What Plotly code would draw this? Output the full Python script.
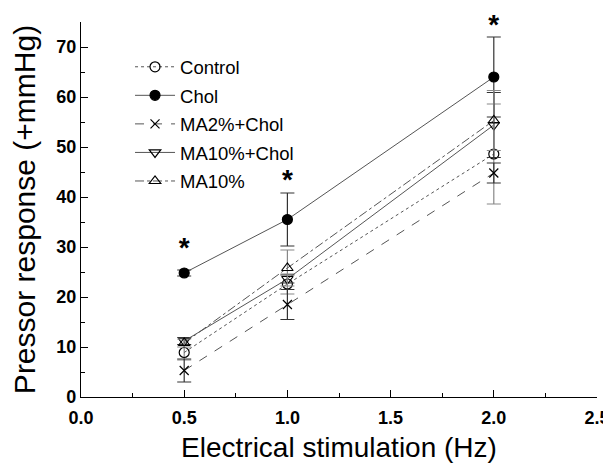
import plotly.graph_objects as go

freq = [0.5, 1.0, 2.0]
series_names = ["Control", "Chol", "MA2%+Chol", "MA10%+Chol", "MA10%"]
control = [8.9, 22.6, 48.6]
control_err = [1.5, 2.0, 10.0]
chol = [24.8, 35.5, 64.0]
chol_err = [0.6, 5.3, 8.0]
ma2_chol = [5.3, 18.5, 44.8]
ma2_chol_err = [2.3, 3.0, 2.0]
ma10_chol = [11.2, 23.6, 54.4]
ma10_chol_err = [0.7, 0.8, 6.5]
ma10 = [10.8, 25.8, 55.3]
ma10_err = [0.8, 3.6, 6.0]
star_x = [0.5, 1.0, 2.0]
star_y = [29.4, 43.0, 74.0]

x_ticks = [0.0, 0.5, 1.0, 1.5, 2.0, 2.5]
y_ticks = [0, 10, 20, 30, 40, 50, 60, 70]

styles = [
    (control, control_err, "dot", "circle-open", "#888888"),
    (chol, chol_err, "solid", "circle", "#333333"),
    (ma2_chol, ma2_chol_err, "dash", "x-thin-open", "#333333"),
    (ma10_chol, ma10_chol_err, "solid", "triangle-down-open", "#333333"),
    (ma10, ma10_err, "dashdot", "triangle-up-open", "#888888"),
]

fig = go.Figure()
for i, (name, (vals, errs, dash, sym, ecol)) in enumerate(zip(series_names, styles)):
    fig.add_trace(go.Scatter(
        x=freq, y=vals, name=name, mode="lines+markers",
        legendgroup=name,
        line=dict(color="#555555", width=1, dash=dash),
        marker=dict(symbol=sym, size=10 if sym != "x-thin-open" else 9,
                    color="black", line=dict(color="black", width=1.2)),
        error_y=dict(type="data", array=errs, visible=True, color=ecol,
                     thickness=1.2, width=7),
        cliponaxis=False,
    ))

fig.add_trace(go.Scatter(
    x=star_x, y=star_y, mode="text", text=["<b>*</b>"] * 3, showlegend=False,
    textfont=dict(size=28, color="black", family="Liberation Sans"),
    textposition="middle center", cliponaxis=False, hoverinfo="skip",
))

# page body has an 8px default margin, so the figure is 8px smaller and offset
fig.update_layout(
    width=603, height=462,
    margin=dict(l=73, r=14, t=14, b=73, autoexpand=False),
    paper_bgcolor="white", plot_bgcolor="white",
    font=dict(family="Liberation Sans, Arial", color="black"),
    showlegend=True,
    legend=dict(x=0.095, y=0.93, xanchor="left", yanchor="top",
                font=dict(size=18.5), bgcolor="rgba(0,0,0,0)",
                tracegroupgap=1.5, itemwidth=40),
)
fig.update_xaxes(
    range=[0, 2.5], tickvals=x_ticks, ticktext=[f"{v:.1f}" for v in x_ticks],
    ticks="inside", ticklen=7, tickwidth=1, tickcolor="black",
    showline=True, linecolor="black", linewidth=1.2,
    showgrid=False, zeroline=False, automargin=False,
    ticklabelstandoff=4,
    tickfont=dict(size=18, family="Liberation Sans", weight="bold"),
    minor=dict(ticks="inside", ticklen=4, dtick=0.25, tickcolor="black", showgrid=False),
    title=dict(text="Electrical stimulation (Hz)", font=dict(size=28), standoff=10),
)
fig.update_yaxes(
    range=[0, 75], tickvals=y_ticks,
    ticks="inside", ticklen=7, tickwidth=1, tickcolor="black",
    showline=True, linecolor="black", linewidth=1.2,
    showgrid=False, zeroline=False, automargin=False,
    tickfont=dict(size=18, family="Liberation Sans", weight="bold"),
    minor=dict(ticks="inside", ticklen=4, dtick=5, tickcolor="black", showgrid=False),
    title=dict(text="Pressor response (+mmHg)", font=dict(size=30), standoff=32),
)

fig.write_html("out.html")
